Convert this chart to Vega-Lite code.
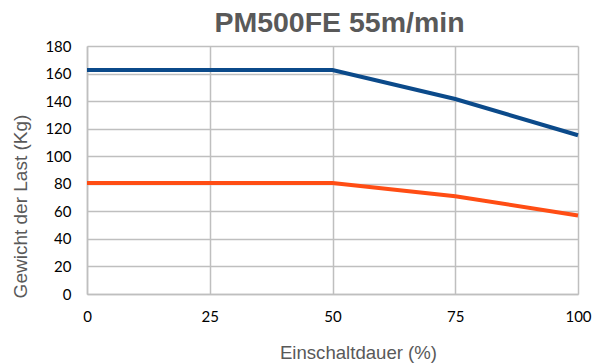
{
  "$schema": "https://vega.github.io/schema/vega-lite/v6.json",
  "width": 491,
  "height": 248,
  "autosize": {"type": "none"},
  "padding": {"left": 87, "top": 46, "right": 16, "bottom": 70},
  "background": "white",
  "title": {
    "text": "PM500FE 55m/min",
    "font": "Liberation Sans",
    "fontSize": 28.5,
    "fontWeight": "bold",
    "color": "#595959",
    "anchor": "middle",
    "dx": 7,
    "offset": 2
  },
  "config": {
    "view": {"stroke": null},
    "axis": {
      "gridColor": "#bfbfbf",
      "gridWidth": 1.5,
      "domainColor": "#bfbfbf",
      "domainWidth": 1.5,
      "ticks": false,
      "labelFont": "Lato",
      "labelFontSize": 15,
      "labelColor": "#000000",
      "titleFont": "Liberation Sans",
      "titleFontWeight": "normal",
      "titleColor": "#595959"
    }
  },
  "data": {
    "values": [
      {"x": 0, "y": 162.6, "s": "A"},
      {"x": 50, "y": 162.6, "s": "A"},
      {"x": 75, "y": 141.5, "s": "A"},
      {"x": 100, "y": 115.2, "s": "A"},
      {"x": 0, "y": 80.6, "s": "B"},
      {"x": 50, "y": 80.6, "s": "B"},
      {"x": 75, "y": 71, "s": "B"},
      {"x": 100, "y": 57, "s": "B"}
    ]
  },
  "mark": {"type": "line", "strokeWidth": 4, "strokeCap": "butt"},
  "encoding": {
    "x": {
      "field": "x",
      "type": "quantitative",
      "scale": {"domain": [0, 100], "nice": false},
      "axis": {
        "values": [0, 25, 50, 75, 100],
        "title": "Einschaltdauer (%)",
        "titleFontSize": 18.6,
        "labelPadding": 15,
        "titleX": 271,
        "titleY": 58,
        "titleAlign": "center",
        "titleBaseline": "middle",
        "labelFlush": false
      }
    },
    "y": {
      "field": "y",
      "type": "quantitative",
      "scale": {"domain": [0, 180], "nice": false},
      "axis": {
        "values": [0, 20, 40, 60, 80, 100, 120, 140, 160, 180],
        "title": "Gewicht der Last (Kg)",
        "titleFontSize": 19,
        "labelPadding": 16,
        "titleX": -67,
        "titleY": 160,
        "titleBaseline": "middle",
        "titleAngle": -90,
        "titleAlign": "center"
      }
    },
    "color": {
      "field": "s",
      "type": "nominal",
      "scale": {"domain": ["A", "B"], "range": ["#0b4a8a", "#ff4d14"]},
      "legend": null
    }
  }
}
